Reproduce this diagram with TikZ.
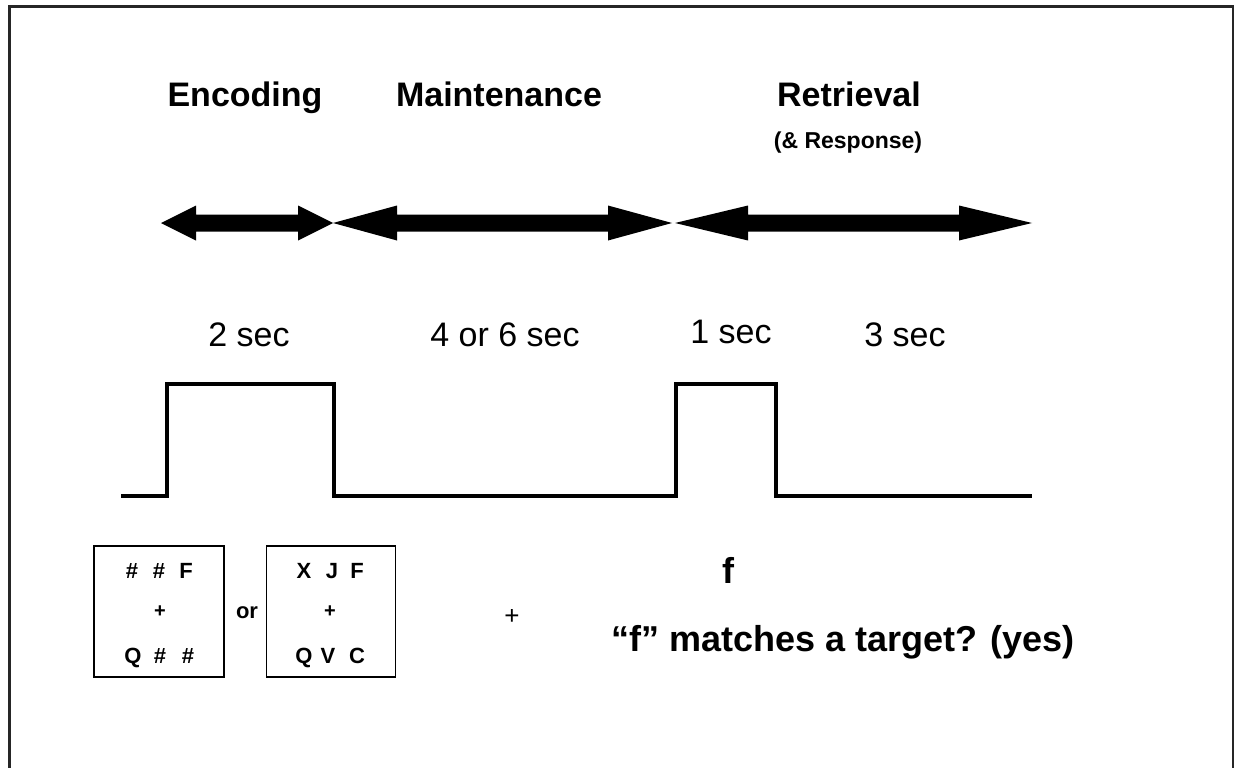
\documentclass[tikz,border=0pt]{standalone}
\usepackage{fontspec}
\setmainfont{Liberation Sans}
\usetikzlibrary{calc}
% double-headed block arrow between two named points: from, to, head length
\newcommand\phasearrow[3]{%
  \fill (#1) -- ++(#3,-17.5) -- ++(0,9) -- ($(#2)+(-#3,-8.5)$) -- ++(0,-9)
    -- (#2) -- ++(-#3,17.5) -- ++(0,-9) -- ($(#1)+(#3,8.5)$) -- ++(0,9) -- cycle;}
\begin{document}
\begin{tikzpicture}[x=1pt,y=-1pt,
  phase/.style={font=\fontsize{34}{40}\selectfont\bfseries, anchor=base},
  sub/.style={font=\fontsize{23}{28}\selectfont\bfseries, anchor=base},
  dur/.style={font=\fontsize{34}{40}\selectfont, anchor=base},
  cell/.style={font=\fontsize{22}{26}\selectfont\bfseries, anchor=base, inner sep=0pt},
  smallplus/.style={font=\fontsize{20}{24}\selectfont\bfseries, inner sep=0pt},
  big/.style={font=\fontsize{36}{42}\selectfont\bfseries, anchor=base},
  wave/.style={line width=4pt, miter limit=10},
  stimbox/.style={draw, line width=1.6pt, minimum width=130pt, minimum height=131pt, inner sep=0pt}]
\useasboundingbox (0,0) rectangle (1242,768);
\fill[white] (0,0) rectangle (1242,768);
% outer frame (open at the bottom)
\draw[line width=2.2pt, draw=black!85] (9.5,772) -- (9.5,6.5) -- (1233,6.5) -- (1233,772);

% phase headings
\node[phase] (enc) at (245,106) {Encoding};
\node[phase] (mnt) at (499,106) {Maintenance};
\node[phase] (ret) at (849,106) {Retrieval};
\node[sub]   (resp) at (848,148) {(\&~Response)};

% phase spans
\coordinate (a0) at (161,223);
\coordinate (a1) at (333,223);
\coordinate (a2) at (672,223);
\coordinate (a2b) at (675,223);
\coordinate (a3) at (1032,223);
\phasearrow{a0}{a1}{35}
\phasearrow{a1}{a2}{64}
\phasearrow{a2b}{a3}{73}

% durations
\node[dur] (d2) at (249,346) {2 sec};
\node[dur] (d4) at (505,346) {4 or 6 sec};
\node[dur] (d1) at (731,343) {1 sec};
\node[dur] (d3) at (905,346) {3 sec};

% stimulus timing
\coordinate (w0) at (121,496);
\coordinate (w1) at (167,496);
\coordinate (w2) at (167,384);
\coordinate (w3) at (334,384);
\coordinate (w4) at (334,496);
\coordinate (w5) at (676,496);
\coordinate (w6) at (676,384);
\coordinate (w7) at (776,384);
\coordinate (w8) at (776,496);
\coordinate (w9) at (1032,496);
\draw[wave] (w0) -- (w1) -- (w2) -- (w3) -- (w4) -- (w5) -- (w6) -- (w7) -- (w8) -- (w9);

% encoding displays
\node[stimbox] (box1) at (159,611.5) {};
\node[stimbox, minimum width=129pt] (box2) at (331,611.5) {};
\node[cell] (b1r1a) at (132,578) {\#};
\node[cell] (b1r1b) at (159,578) {\#};
\node[cell] (b1r1c) at (186,578) {F};
\node[smallplus] (b1p) at (160,612) {+};
\node[cell] (b1r3a) at (133,663) {Q};
\node[cell] (b1r3b) at (160,663) {\#};
\node[cell] (b1r3c) at (188,663) {\#};
\node[cell] (b2r1a) at (304,578) {X};
\node[cell] (b2r1b) at (332,578) {J};
\node[cell] (b2r1c) at (357,578) {F};
\node[smallplus] (b2p) at (330,612) {+};
\node[cell] (b2r3a) at (304,663) {Q};
\node[cell] (b2r3b) at (328,663) {V};
\node[cell] (b2r3c) at (357,663) {C};
\node[cell] (or) at (247,618) {or};

% maintenance fixation and probe
\node[font=\fontsize{26}{30}\selectfont] (fix) at (512,617) {+};
\node[big] (probe) at (728,583) {f};
\node[big] (question) at (843,651) {“f” matches a target? (yes)};
\end{tikzpicture}
\end{document}
